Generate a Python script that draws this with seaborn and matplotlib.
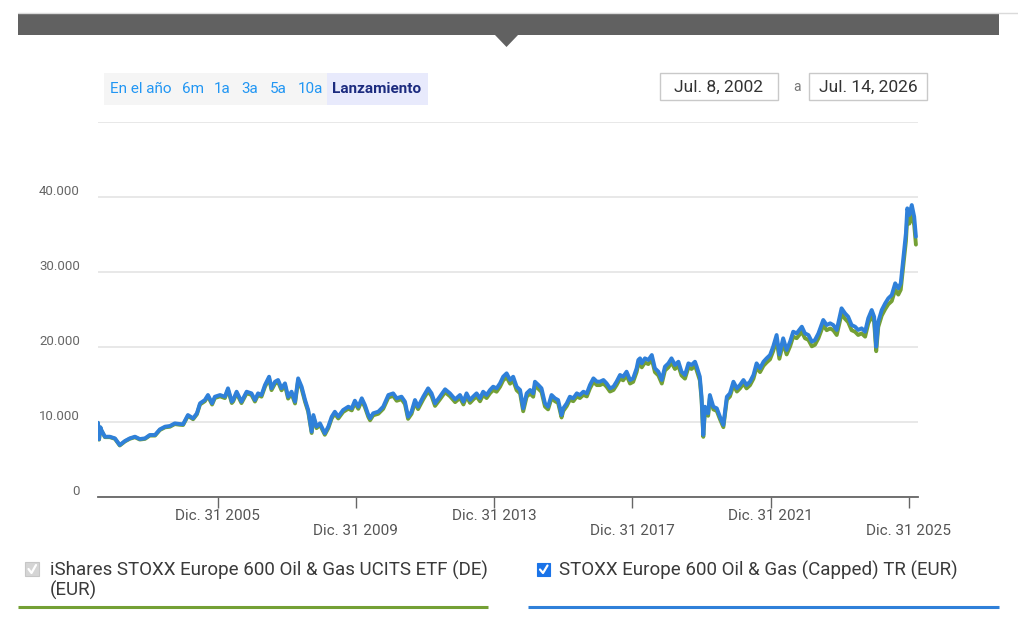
import numpy as np
import pandas as pd
import matplotlib
matplotlib.use("Agg")
import matplotlib.pyplot as plt
import matplotlib.transforms as mtransforms
from matplotlib.patches import Rectangle, Polygon
from matplotlib.lines import Line2D
import seaborn as sns

# ---------------- data ----------------
years = [
    2002.54, 2002.57, 2002.61, 2002.64, 2002.74, 2002.88, 2003.03, 2003.17, 2003.32, 2003.46,
    2003.61, 2003.75, 2003.90, 2004.04, 2004.19, 2004.33, 2004.48, 2004.62, 2004.76, 2004.91,
    2005.00, 2005.14, 2005.29, 2005.40, 2005.49, 2005.63, 2005.72, 2005.84, 2005.92, 2006.07,
    2006.21, 2006.30, 2006.41, 2006.45, 2006.55, 2006.69, 2006.84, 2006.98, 2007.08, 2007.17,
    2007.27, 2007.37, 2007.49, 2007.56, 2007.66, 2007.75, 2007.85, 2007.95, 2008.04, 2008.14,
    2008.24, 2008.33, 2008.43, 2008.53, 2008.62, 2008.72, 2008.77, 2008.86, 2008.96, 2009.10,
    2009.20, 2009.30, 2009.39, 2009.49, 2009.63, 2009.78, 2009.88, 2009.97, 2010.07, 2010.17,
    2010.26, 2010.36, 2010.41, 2010.50, 2010.65, 2010.79, 2010.94, 2011.08, 2011.18, 2011.32,
    2011.42, 2011.51, 2011.61, 2011.71, 2011.80, 2011.95, 2012.09, 2012.19, 2012.29, 2012.43,
    2012.58, 2012.72, 2012.87, 2013.01, 2013.11, 2013.20, 2013.30, 2013.39, 2013.49, 2013.59,
    2013.68, 2013.78, 2013.88, 2013.97, 2014.07, 2014.17, 2014.26, 2014.36, 2014.46, 2014.55,
    2014.65, 2014.75, 2014.84, 2014.94, 2015.04, 2015.13, 2015.18, 2015.28, 2015.37, 2015.47,
    2015.56, 2015.66, 2015.76, 2015.85, 2015.95, 2016.00, 2016.10, 2016.19, 2016.29, 2016.39,
    2016.48, 2016.58, 2016.68, 2016.77, 2016.87, 2016.97, 2017.06, 2017.16, 2017.25, 2017.35,
    2017.45, 2017.54, 2017.64, 2017.73, 2017.83, 2017.93, 2018.02, 2018.12, 2018.17, 2018.22,
    2018.27, 2018.36, 2018.46, 2018.56, 2018.65, 2018.75, 2018.85, 2018.94, 2019.04, 2019.13,
    2019.23, 2019.33, 2019.42, 2019.52, 2019.62, 2019.71, 2019.81, 2019.86, 2019.95, 2020.00,
    2020.05, 2020.10, 2020.19, 2020.24, 2020.34, 2020.44, 2020.53, 2020.63, 2020.73, 2020.82,
    2020.92, 2021.02, 2021.11, 2021.21, 2021.30, 2021.40, 2021.50, 2021.59, 2021.69, 2021.79,
    2021.88, 2021.98, 2022.07, 2022.17, 2022.25, 2022.36, 2022.46, 2022.56, 2022.65, 2022.75,
    2022.90, 2022.99, 2023.09, 2023.19, 2023.28, 2023.38, 2023.52, 2023.62, 2023.72, 2023.81,
    2023.91, 2024.05, 2024.15, 2024.24, 2024.34, 2024.44, 2024.53, 2024.63, 2024.73, 2024.82,
    2024.92, 2024.99, 2025.05, 2025.11, 2025.21, 2025.31, 2025.40, 2025.50, 2025.60, 2025.69,
    2025.76, 2025.84, 2025.91, 2025.95, 2026.01, 2026.08, 2026.15, 2026.20,
]

index_tr = [
    9900, 7700, 9300, 8900, 8040, 8040, 7820, 6930, 7470, 7820,
    8040, 7730, 7820, 8270, 8270, 9020, 9380, 9470, 9820, 9730,
    9700, 10930, 10490, 11160, 12490, 12930, 13600, 12490, 13370, 13600,
    13370, 14490, 12710, 12930, 14040, 12710, 14040, 13820, 12930, 13820,
    13600, 14930, 16040, 14490, 15370, 15600, 14490, 15150, 13370, 14040,
    12710, 15820, 14710, 12930, 11600, 8710, 10930, 9380, 9820, 8490,
    9380, 10710, 11370, 10710, 11600, 12040, 11820, 12840, 12040, 13160,
    12270, 10930, 10490, 11160, 11380, 12040, 13600, 13820, 13160, 13380,
    12710, 10710, 11380, 12930, 12040, 13380, 14490, 13820, 12490, 13380,
    14360, 13820, 13020, 13600, 12710, 13820, 12930, 13380, 13820, 13160,
    14040, 13600, 14270, 14710, 14490, 15160, 16040, 16490, 15600, 16040,
    14710, 14270, 11820, 13820, 14270, 13820, 15370, 14930, 14490, 12490,
    12040, 13600, 13160, 12930, 10930, 11820, 12490, 13370, 13160, 13820,
    13600, 14040, 13820, 14930, 15820, 15380, 15380, 15600, 15160, 14490,
    14710, 15380, 16270, 16040, 16710, 15600, 15820, 17160, 18270, 18490,
    17820, 18490, 18270, 18930, 17160, 16710, 15600, 17380, 17820, 18490,
    17600, 18040, 16710, 16270, 17820, 17600, 18040, 17380, 16040, 13370,
    8270, 12040, 11160, 13600, 12040, 11820, 10710, 9600, 13370, 13820,
    15370, 14490, 14930, 15600, 14930, 15370, 16270, 17820, 17160, 18040,
    18490, 18930, 20040, 21600, 19000, 21160, 19600, 20710, 22040, 21820,
    22710, 21820, 21600, 20710, 20930, 21820, 23600, 22930, 23160, 22930,
    22270, 25160, 24490, 24040, 22930, 22710, 22270, 22490, 22040, 23820,
    24930, 24040, 20040, 23370, 24930, 25820, 26490, 26930, 28490, 27820,
    28490, 32040, 35160, 38490, 37600, 38930, 37370, 34710,
]

etf = [
    9850, 7650, 9250, 8850, 7980, 7980, 7760, 6870, 7410, 7760,
    7970, 7660, 7750, 8190, 8190, 8930, 9290, 9370, 9720, 9630,
    9600, 10810, 10370, 11030, 12340, 12770, 13430, 12330, 13200, 13420,
    13190, 14290, 12530, 12740, 13840, 12520, 13830, 13610, 12730, 13600,
    13380, 14690, 15780, 14250, 15110, 15330, 14230, 14880, 13120, 13780,
    12470, 15520, 14430, 12680, 11370, 8530, 10710, 9180, 9610, 8300,
    9170, 10480, 11120, 10470, 11340, 11770, 11550, 12550, 11760, 12860,
    11980, 10670, 10230, 10890, 11100, 11750, 13270, 13480, 12830, 13040,
    12380, 10420, 11080, 12600, 11720, 13030, 14110, 13450, 12150, 13010,
    13970, 13440, 12650, 13210, 12340, 13420, 12550, 12990, 13410, 12760,
    13620, 13190, 13840, 14260, 14040, 14700, 15550, 15980, 15110, 15540,
    14240, 13810, 11430, 13370, 13800, 13370, 14860, 14430, 14000, 12060,
    11680, 13190, 12770, 12540, 10600, 11470, 12120, 12970, 12770, 13410,
    13190, 13620, 13410, 14480, 15350, 14920, 14920, 15130, 14710, 14060,
    14270, 14920, 15780, 15560, 16210, 15130, 15350, 16650, 17720, 17940,
    17290, 17940, 17720, 18360, 16650, 16210, 15130, 16860, 17290, 17940,
    17070, 17500, 16210, 15780, 17290, 17070, 17500, 16860, 15560, 12970,
    8020, 11680, 10830, 13190, 11680, 11470, 10390, 9310, 12970, 13410,
    14910, 14060, 14480, 15130, 14480, 14910, 15780, 17290, 16650, 17500,
    17940, 18360, 19440, 20950, 18430, 20530, 19010, 20090, 21380, 21170,
    22030, 21170, 20950, 20090, 20300, 21170, 22890, 22240, 22470, 22240,
    21600, 24410, 23760, 23320, 22240, 22030, 21600, 21820, 21380, 23110,
    24180, 23320, 19440, 22670, 24180, 25050, 25700, 26120, 27640, 26990,
    27630, 31080, 34100, 37300, 36450, 37750, 36250, 33650,
]

series_names = [
    "iShares STOXX Europe 600 Oil & Gas UCITS ETF (DE) (EUR)",
    "STOXX Europe 600 Oil & Gas (Capped) TR (EUR)",
]
y_ticks = [0, 10000, 20000, 30000, 40000, 50000]
y_tick_labels = ["0", "10.000", "20.000", "30.000", "40.000", ""]
x_tick_dates = ["2005-12-31", "2009-12-31", "2013-12-31", "2017-12-31", "2021-12-31", "2025-12-31"]
x_tick_labels = ["Dic. 31 2005", "Dic. 31 2009", "Dic. 31 2013",
                 "Dic. 31 2017", "Dic. 31 2021", "Dic. 31 2025"]
range_buttons = ["En el año", "6m", "1a", "3a", "5a", "10a", "Lanzamiento"]
date_from, date_sep, date_to = "Jul. 8, 2002", "a", "Jul. 14, 2026"
x_start, x_end = 2002.54, 2026.26

# ---------------- build frame ----------------
def to_date(y):
    yr = int(y)
    a, b = pd.Timestamp(yr, 1, 1), pd.Timestamp(yr + 1, 1, 1)
    return a + (b - a) * (y - yr)

dates = [to_date(y) for y in years]
n = len(dates)
df = pd.DataFrame({
    "date": dates * 2,
    "value": etf + index_tr,
    "series": [series_names[0]] * n + [series_names[1]] * n,
})

GREEN = "#74a035"
BLUE = "#2f80d9"

sns.set_theme(style="white")
plt.rcParams["font.family"] = ["Roboto", "DejaVu Sans"]

W, H = 1018, 625
fig = plt.figure(figsize=(W / 100, H / 100), dpi=100)
fig.patch.set_facecolor("white")
ax = fig.add_axes([98 / W, 1 - 497 / H, 820 / W, 375 / H])
ax.set_facecolor("white")

sns.lineplot(data=df, x="date", y="value", hue="series", hue_order=series_names,
             palette=[GREEN, BLUE], linewidth=2.8, estimator=None, legend=False, ax=ax)

ax.set_xlim(to_date(x_start), to_date(x_end))
ax.set_ylim(0, 50000)
ax.set_xlabel("")
ax.set_ylabel("")

for s in ["top", "right", "left"]:
    ax.spines[s].set_visible(False)
ax.spines["bottom"].set_color("#666666")
ax.spines["bottom"].set_linewidth(1.3)

ax.set_yticks(y_ticks)
ax.set_yticklabels(y_tick_labels)
ax.yaxis.grid(True, color="#e4e4e4", linewidth=1.2)
ax.set_axisbelow(True)
ax.tick_params(axis="y", length=0, pad=13, labelsize=9.5, labelcolor="#666666")
off = mtransforms.ScaledTranslation(0, 7 / 100, fig.dpi_scale_trans)
for lab in ax.get_yticklabels():
    lab.set_transform(lab.get_transform() + off)

ax.set_xticks(pd.to_datetime(x_tick_dates))
ax.set_xticklabels([lab if i % 2 == 0 else "\n" + lab for i, lab in enumerate(x_tick_labels)])
ax.tick_params(axis="x", length=8, width=1, color="#666666", pad=1,
               labelsize=11, labelcolor="#555555", bottom=True)
for lab in ax.get_xticklabels():
    lab.set_linespacing(1.05)

# ---------------- page furniture (pixel coordinates) ----------------
px = mtransforms.Affine2D().scale(1 / W, -1 / H).translate(0, 1) + fig.transFigure

fig.add_artist(Line2D([18, 1018], [13, 13], transform=px, color="#dadada", lw=1))
fig.add_artist(Rectangle((18, 14), 981, 21, transform=px, fc="#616161", ec="none"))
fig.add_artist(Polygon([(495, 35), (518, 35), (506.5, 47)], closed=True, transform=px,
                       fc="#616161", ec="none"))

# range buttons
fig.add_artist(Rectangle((104, 73), 324, 32, transform=px, fc="#f5f5f5", ec="none"))
fig.add_artist(Rectangle((327, 73), 101, 32, transform=px, fc="#e8eafc", ec="none"))
btn_x = [141, 193, 222, 250, 278, 310, 377]
for label, bx in zip(range_buttons, btn_x):
    last = label == range_buttons[-1]
    fig.text(bx, 89, label, transform=px, ha="center", va="center",
             fontsize=11, color="#1c2b7f" if last else "#2196f3",
             fontweight="bold" if last else "normal")

# date boxes
fig.add_artist(Rectangle((660, 73), 118, 27, transform=px, fc="white", ec="#c9c9c9", lw=1))
fig.add_artist(Rectangle((809, 73), 118, 27, transform=px, fc="white", ec="#c9c9c9", lw=1))
fig.text(719, 87, date_from, transform=px, ha="center", va="center", fontsize=12.5,
         color="#333333")
fig.text(797, 87, date_sep, transform=px, ha="center", va="center", fontsize=10,
         color="#777777")
fig.text(868, 87, date_to, transform=px, ha="center", va="center", fontsize=12.5,
         color="#333333")

# legend
name1_a, name1_b = series_names[0].rsplit(" ", 1)
fig.add_artist(Rectangle((25, 562), 14, 14, transform=px, fc="#d5d5d5", ec="#c6c6c6", lw=0.8))
fig.add_artist(Line2D([28.5, 31.5, 36], [569, 573, 565], transform=px, color="white", lw=1.6))
fig.text(50, 570, name1_a, transform=px, ha="left", va="center", fontsize=13.5, color="#3a3a3a")
fig.text(50, 590, name1_b, transform=px, ha="left", va="center", fontsize=13.5, color="#3a3a3a")
fig.add_artist(Line2D([18, 488], [607, 607], transform=px, color=GREEN, lw=2.2,
                      solid_capstyle="butt"))

fig.add_artist(Rectangle((537, 563), 13, 13, transform=px, fc="#1a73e8", ec="#1a73e8", lw=0.8))
fig.add_artist(Line2D([540, 543, 547.5], [569.5, 573, 565.5], transform=px, color="white", lw=1.6))
fig.text(559, 570, series_names[1], transform=px, ha="left", va="center", fontsize=13.5,
         color="#3a3a3a")
fig.add_artist(Line2D([528, 999], [607, 607], transform=px, color=BLUE, lw=2.2,
                      solid_capstyle="butt"))

fig.savefig("out.png", dpi=100, facecolor="white")
